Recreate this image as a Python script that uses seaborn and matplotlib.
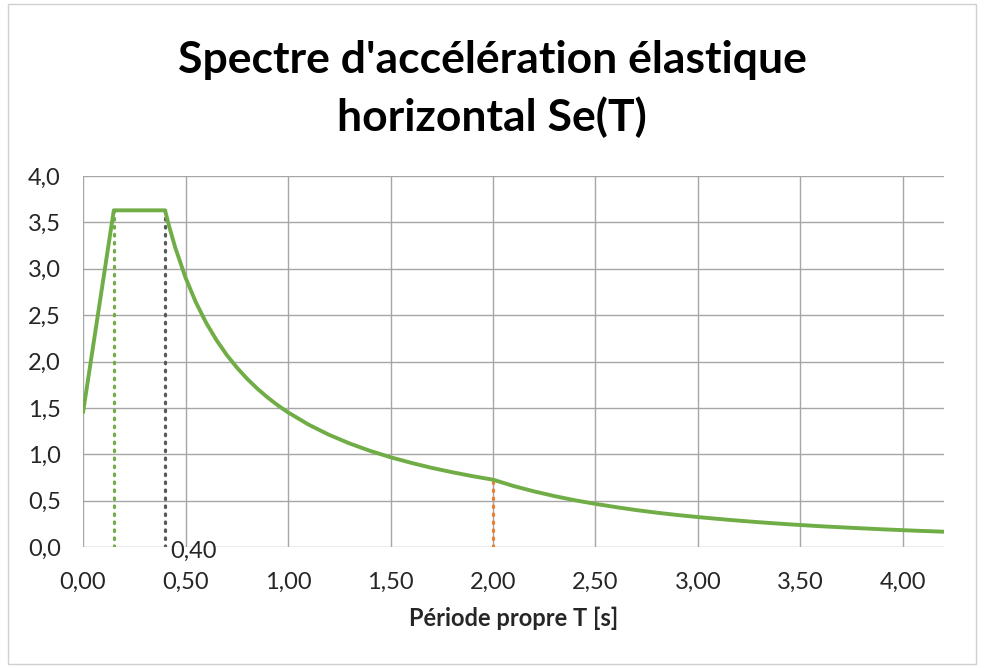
import numpy as np
import pandas as pd
import seaborn as sns
from matplotlib import pyplot as plt
from matplotlib.patches import Rectangle

# valeurs
periode = [0.00, 0.15, 0.40, 0.42, 0.45, 0.50, 0.55, 0.60, 0.65, 0.70, 0.75, 0.80,
           0.85, 0.90, 0.95, 1.00, 1.10, 1.20, 1.30, 1.40, 1.50, 1.60, 1.70, 1.80,
           1.90, 2.00, 2.10, 2.20, 2.30, 2.40, 2.50, 2.60, 2.70, 2.80, 2.90, 3.00,
           3.15, 3.30, 3.45, 3.60, 3.75, 3.90, 4.05, 4.20]
se = [1.452, 3.630, 3.630, 3.457, 3.227, 2.904, 2.640, 2.420, 2.234, 2.074, 1.936, 1.815,
      1.708, 1.613, 1.528, 1.452, 1.320, 1.210, 1.117, 1.037, 0.968, 0.908, 0.854, 0.807,
      0.764, 0.726, 0.658, 0.600, 0.549, 0.504, 0.465, 0.430, 0.398, 0.370, 0.345, 0.323,
      0.293, 0.267, 0.244, 0.224, 0.207, 0.191, 0.177, 0.165]

# lignes verticales pointillees (TB, TC, TD)
t_repere = [0.15, 0.40, 2.00]
se_repere = [3.63, 3.63, 0.726]
couleurs_repere = ['#70AD47', '#595959', '#ED7D31']

x_ticks = [0, 0.5, 1.0, 1.5, 2.0, 2.5, 3.0, 3.5, 4.0]
y_ticks = [0, 0.5, 1.0, 1.5, 2.0, 2.5, 3.0, 3.5, 4.0]

sns.set_style('white')
plt.rcParams['font.family'] = ['Lato', 'DejaVu Sans']

fig = plt.figure(figsize=(9.84, 6.68), dpi=100)
ax = fig.add_axes([0.0844, 0.1811, 0.8749, 0.5554])

data = pd.DataFrame({'T': periode, 'Se': se})
sns.lineplot(data=data, x='T', y='Se', color='#70AD47', linewidth=2.8, ax=ax, zorder=4)

for t, s, c in zip(t_repere, se_repere, couleurs_repere):
    ax.plot([t, t], [0, s], color=c, linestyle=(0, (0.5, 2.0)), linewidth=2.3,
            dash_capstyle='round', zorder=3)

ax.annotate('0,40', xy=(0.40, 0), xytext=(4, -3), textcoords='offset points',
            fontsize=17, ha='left', va='center', color='#262626')

ax.set_xlim(0, 4.2)
ax.set_ylim(0, 4.0)
ax.set_xticks(x_ticks)
ax.set_yticks(y_ticks)
ax.set_xticklabels(['{:.2f}'.format(v).replace('.', ',') for v in x_ticks])
ax.set_yticklabels(['{:.1f}'.format(v).replace('.', ',') for v in y_ticks])
ax.grid(True, color='#A6A6A6', linewidth=1)
ax.set_axisbelow(True)
for sp in ax.spines.values():
    sp.set_visible(False)
ax.tick_params(axis='both', length=6, width=1, color='#A6A6A6', labelsize=17,
               labelcolor='#262626')
ax.tick_params(axis='y', pad=10)
ax.tick_params(axis='x', pad=12)

ax.set_xlabel('Période propre T [s]', fontsize=17, fontweight='bold', labelpad=10, color='#262626')
ax.set_ylabel('')

fig.text(0.5, 0.91, "Spectre d'accélération élastique", ha='center', va='center',
         fontsize=32, fontweight='bold', color='black')
fig.text(0.5, 0.824, 'horizontal Se(T)', ha='center', va='center',
         fontsize=32, fontweight='bold', color='black')

fig.patches.append(Rectangle((0.008, 0.006), 0.984, 0.988, transform=fig.transFigure,
                             fill=False, edgecolor='#D0D0D0', linewidth=1))

fig.savefig('out.png', dpi=100)
